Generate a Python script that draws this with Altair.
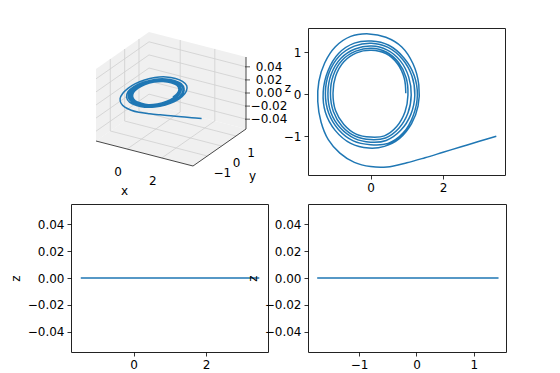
import altair as alt
import pandas as pd

# ---------------- data ----------------
# trajectory (x, y) read from the upper-right x–y panel, in time order
x_vals = [3.47, 3.00, 2.50, 2.00, 1.50, 1.00, 0.45, 0.00, -0.45, -0.85, -1.17, -1.37, -1.46,
          -1.43, -1.27, -0.98, -0.55, -0.05, 0.42, 0.86, 1.17, 1.33, 1.31, 1.13, 0.80, 0.38,
          -0.05, -0.55, -0.98, -1.25, -1.31, -1.18, -0.88, -0.45, 0.02, 0.50, 0.92, 1.20,
          1.29, 1.18, 0.90, 0.48,
          0.00, -0.48, -0.89, -1.16, -1.25, -1.15, -0.87, -0.45, 0.02, 0.48, 0.88, 1.14,
          1.22, 1.11, 0.83, 0.43,
          0.00, -0.45, -0.84, -1.10, -1.18, -1.09, -0.82, -0.43, 0.02, 0.45, 0.82, 1.05,
          1.12, 1.03, 0.78, 0.41,
          0.00, -0.42, -0.79, -1.03, -1.11, -1.03, -0.78, -0.41, 0.02, 0.43, 0.77, 0.98,
          1.03, 0.95, 0.72, 0.38,
          0.00, -0.40, -0.74, -0.97, -1.04, -0.97, -0.74, -0.39, 0.02, 0.42, 0.74, 0.93,
          0.97]
y_vals = [-1.00, -1.12, -1.25, -1.38, -1.51, -1.63, -1.73, -1.72, -1.62, -1.40, -1.08, -0.66, -0.18,
          0.30, 0.74, 1.12, 1.37, 1.43, 1.35, 1.12, 0.72, 0.22, -0.28, -0.70, -1.05, -1.24,
          -1.28, -1.17, -0.86, -0.43, 0.05, 0.55, 0.97, 1.21, 1.26, 1.16, 0.86, 0.45,
          -0.02, -0.50, -0.92, -1.17,
          -1.20, -1.11, -0.84, -0.45, 0.02, 0.50, 0.90, 1.14, 1.21, 1.11, 0.83, 0.43,
          -0.02, -0.48, -0.86, -1.10,
          -1.14, -1.05, -0.80, -0.43, 0.02, 0.47, 0.85, 1.07, 1.14, 1.05, 0.79, 0.41,
          -0.02, -0.45, -0.81, -1.04,
          -1.08, -1.00, -0.76, -0.41, 0.02, 0.45, 0.81, 1.02, 1.09, 1.00, 0.75, 0.39,
          -0.02, -0.42, -0.77, -0.99,
          -1.02, -0.95, -0.72, -0.39, 0.02, 0.42, 0.77, 0.98, 1.04, 0.96, 0.72, 0.37,
          0.02]
# z stays at 0.00 in every panel of the picture
z_vals = [0.0] * len(x_vals)

# axis limits and ticks
X_DOMAIN = [-1.73, 3.71]
Y_DOMAIN = [-1.92, 1.57]
Y_DOMAIN_BR = [-1.89, 1.56]
Z_DOMAIN = [-0.055, 0.055]
X_TICKS = [0, 2]
Y_TICKS = [-1, 0, 1]
Z_TICKS = [-0.04, -0.02, 0.0, 0.02, 0.04]

# 3-D box limits
X3_DOMAIN = [-1.8, 3.8]
Y3_DOMAIN = [-2.0, 1.7]
Z3_DOMAIN = [-0.055, 0.055]

# ---------------- styling ----------------
BLUE = "#1f77b4"
FONT = "DejaVu Sans"
FS = 12
PW, PH = 197, 147
PH_B = 148

traj = pd.DataFrame({"t": list(range(len(x_vals))), "x": x_vals, "y": y_vals, "z": z_vals})


def minus(s):
    return s.replace("-", "\u2212")


def make_axis(values, fmt, title=None, title_pad=5):
    kw = dict(values=values, format=fmt, grid=False, domain=False, tickSize=4,
              tickWidth=0.8, tickColor="black", labelColor="black", labelFontSize=FS,
              labelFont=FONT, labelPadding=3, labelFlush=False, labelOverlap=False)
    if title:
        kw.update(title=title, titleFont=FONT, titleFontSize=FS, titleFontWeight="normal",
                  titleColor="black", titlePadding=title_pad)
    else:
        kw["title"] = None
    return alt.Axis(**kw)


def panel(xf, yf, xdom, ydom, xt, yt, xfmt, yfmt, ytitle, interp, w, h):
    return alt.Chart(traj).mark_line(color=BLUE, strokeWidth=1.5, interpolate=interp,
                                     clip=True).encode(
        x=alt.X(f"{xf}:Q", scale=alt.Scale(domain=xdom, nice=False, zero=False),
                axis=make_axis(xt, xfmt)),
        y=alt.Y(f"{yf}:Q", scale=alt.Scale(domain=ydom, nice=False, zero=False),
                axis=make_axis(yt, yfmt, ytitle)),
        order="t:Q",
    ).properties(width=w, height=h)


top_right = panel("x", "y", X_DOMAIN, Y_DOMAIN, X_TICKS, Y_TICKS, "d", "d", None,
                  "catmull-rom", PW, PH)
bottom_left = panel("x", "z", X_DOMAIN, Z_DOMAIN, X_TICKS, Z_TICKS, "d", ".2f", "z",
                    "linear", PW, PH_B)
bottom_right = panel("y", "z", Y_DOMAIN_BR, Z_DOMAIN, Y_TICKS, Z_TICKS, "d", ".2f", "z",
                     "linear", PW + 1, PH_B)

# ---------------- 3-D panel (projected box) ----------------
x0, x1 = X3_DOMAIN
y0, y1 = Y3_DOMAIN
z0, z1 = Z3_DOMAIN


def proj(ch):
    X = f"((datum.x - ({x0})) / {x1 - x0})"
    Y = f"((datum.y - ({y0})) / {y1 - y0})"
    Z = f"((datum.z - ({z0})) / {z1 - z0})"
    return ch.transform_calculate(
        U=f"25 + 97 * {X} + 53 * {Y}",
        V=f"113 + 25 * {X} - 37 * {Y} - 72 * {Z}",
    )


XS = alt.Scale(domain=[0, PW], range=[0, PW])
YS = alt.Scale(domain=[0, PH], range=[0, PH])
UX = alt.X("U:Q", scale=XS, axis=None)
VY = alt.Y("V:Q", scale=YS, axis=None)

pane_rows = []
pane_defs = {
    "floor": [(x0, y0, z0), (x1, y0, z0), (x1, y1, z0), (x0, y1, z0), (x0, y0, z0)],
    "left": [(x0, y0, z0), (x0, y1, z0), (x0, y1, z1), (x0, y0, z1), (x0, y0, z0)],
    "back": [(x0, y1, z0), (x1, y1, z0), (x1, y1, z1), (x0, y1, z1), (x0, y1, z0)],
}
for name, pts in pane_defs.items():
    for k, (a, b, c) in enumerate(pts):
        pane_rows.append({"seg": name, "k": k, "x": a, "y": b, "z": c})
panes = pd.DataFrame(pane_rows)

grid_rows = []


def seg(name, p, q, rows):
    rows.append({"seg": name, "k": 0, "x": p[0], "y": p[1], "z": p[2]})
    rows.append({"seg": name, "k": 1, "x": q[0], "y": q[1], "z": q[2]})


for yt in Y_TICKS:
    seg(f"ly{yt}", (x0, yt, z0), (x0, yt, z1), grid_rows)
    seg(f"fy{yt}", (x0, yt, z0), (x1, yt, z0), grid_rows)
for xt in X_TICKS:
    seg(f"bx{xt}", (xt, y1, z0), (xt, y1, z1), grid_rows)
    seg(f"fx{xt}", (xt, y0, z0), (xt, y1, z0), grid_rows)
for zt in Z_TICKS:
    seg(f"lz{zt}", (x0, y0, zt), (x0, y1, zt), grid_rows)
    seg(f"bz{zt}", (x0, y1, zt), (x1, y1, zt), grid_rows)
grid = pd.DataFrame(grid_rows)

edge_rows = []
seg("xaxis", (x0, y0, z0), (x1, y0, z0), edge_rows)
seg("yaxis", (x1, y0, z0), (x1, y1, z0), edge_rows)
seg("zaxis", (x1, y1, z0), (x1, y1, z1), edge_rows)
edges = pd.DataFrame(edge_rows)

xlab = pd.DataFrame({"x": X_TICKS, "y": [y0] * len(X_TICKS), "z": [z0] * len(X_TICKS),
                     "text": [minus(f"{v:d}") for v in X_TICKS]})
ylab = pd.DataFrame({"x": [x1] * len(Y_TICKS), "y": Y_TICKS, "z": [z0] * len(Y_TICKS),
                     "text": [minus(f"{v:d}") for v in Y_TICKS]})
zlab = pd.DataFrame({"x": [x1] * len(Z_TICKS), "y": [y1] * len(Z_TICKS), "z": Z_TICKS,
                     "text": [minus(f"{v:.2f}") for v in Z_TICKS]})
titles_x = pd.DataFrame({"x": [(x0 + x1) / 2], "y": [y0], "z": [z0], "text": ["x"]})
titles_y = pd.DataFrame({"x": [x1], "y": [(y0 + y1) / 2], "z": [z0], "text": ["y"]})
titles_z = pd.DataFrame({"x": [x1], "y": [y1], "z": [0.0], "text": ["z"]})


def text_layer(df, dx, dy):
    return proj(alt.Chart(df)).mark_text(
        font=FONT, fontSize=FS, color="black", align="center", baseline="middle",
        dx=dx, dy=dy).encode(x=UX, y=VY, text="text:N")


l_panes = proj(alt.Chart(panes)).mark_line(fill="#f0f0f0", strokeOpacity=0).encode(
    x=UX, y=VY, detail="seg:N", order="k:Q")
l_grid = proj(alt.Chart(grid)).mark_line(color="#cfcfcf", strokeWidth=0.8).encode(
    x=UX, y=VY, detail="seg:N", order="k:Q")
l_edges = proj(alt.Chart(edges)).mark_line(color="#333333", strokeWidth=0.9).encode(
    x=UX, y=VY, detail="seg:N", order="k:Q")
l_zticks = proj(alt.Chart(zlab)).transform_calculate(
    U1="datum.U - 1", U2="datum.U + 4").mark_rule(color="#333333", strokeWidth=0.8).encode(
    x=alt.X("U1:Q", scale=XS, axis=None), x2="U2:Q", y=VY)
l_spiral = proj(alt.Chart(traj)).mark_line(color=BLUE, strokeWidth=1.5,
                                           interpolate="catmull-rom").encode(
    x=UX, y=VY, order="t:Q")

three_d = alt.layer(
    l_panes, l_grid, l_edges, l_zticks, l_spiral,
    text_layer(xlab, -9, 23), text_layer(ylab, 15, 17), text_layer(zlab, 23, 0),
    text_layer(titles_x, -20, 37), text_layer(titles_y, 33, 28), text_layer(titles_z, 42, -5),
).properties(width=PW, height=PH, view=alt.ViewBackground(stroke="transparent"))

chart = alt.concat(
    three_d, top_right, bottom_left, bottom_right,
    columns=2, spacing={"row": 29, "column": 40}, bounds="flush",
).properties(
    padding={"left": 0, "top": 19, "right": 5, "bottom": 0},
).configure(font=FONT).configure_view(
    stroke="#222222", strokeWidth=1
)

chart.save("out.html", embed_options={"renderer": "svg", "actions": False})
